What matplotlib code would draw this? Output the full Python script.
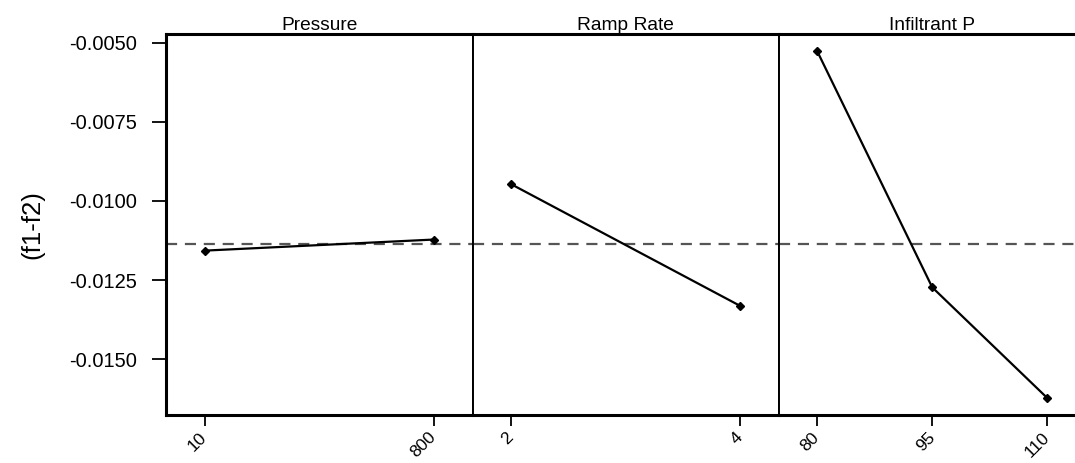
import matplotlib.pyplot as plt

plt.rcParams['font.family'] = ['Liberation Sans', 'DejaVu Sans']

# factor levels and mean response (f1-f2)
factors = ['Pressure', 'Ramp Rate', 'Infiltrant P']
levels = [['10', '800'], ['2', '4'], ['80', '95', '110']]
means = [[-0.01157, -0.01122],
         [-0.00947, -0.01332],
         [-0.00526, -0.01273, -0.01623]]
grand_mean = -0.01136
yticks = [-0.0050, -0.0075, -0.0100, -0.0125, -0.0150]

W, H = 1075, 463
fig = plt.figure(figsize=(W / 100, H / 100), dpi=100)

left_px = 166
panel_w = 306.5
top_px, bottom_px = 33.7, 415.3
pads = [0.168, 0.168, 0.33]

for i, (name, lv, vals) in enumerate(zip(factors, levels, means)):
    x0 = left_px + i * panel_w
    ax = fig.add_axes([x0 / W, 1 - bottom_px / H, panel_w / W, (bottom_px - top_px) / H])
    xs = list(range(len(lv)))
    ax.axhline(grand_mean, color='#555555', lw=1.6, ls=(0, (5, 3.5)), zorder=1)
    ax.plot(xs, vals, color='black', lw=1.6, marker='D', ms=4, zorder=2)
    ax.set_xlim(-pads[i], len(lv) - 1 + pads[i])
    ax.set_ylim(-0.01677, -0.00472)
    ax.set_xticks(xs)
    ax.set_xticklabels(lv, rotation=45, ha='right', va='center', rotation_mode='anchor', fontsize=12.5)
    ax.tick_params(axis='x', length=8, width=1.3, pad=6)
    ax.set_title(name, fontsize=13.8, pad=3)
    for side, sp in ax.spines.items():
        sp.set_linewidth(2.2 if side in ('top', 'bottom') or (side == 'left' and i == 0) else 1.4)
    if i == 0:
        ax.set_yticks(yticks)
        ax.set_yticklabels([f'{v:.4f}' for v in yticks], fontsize=14.5)
        ax.tick_params(axis='y', length=10, width=1.3, pad=11)
        ax.set_ylabel('(f1-f2)', fontsize=18.5, labelpad=18)
    else:
        ax.set_yticks([])

fig.savefig('out.png', dpi=100)
